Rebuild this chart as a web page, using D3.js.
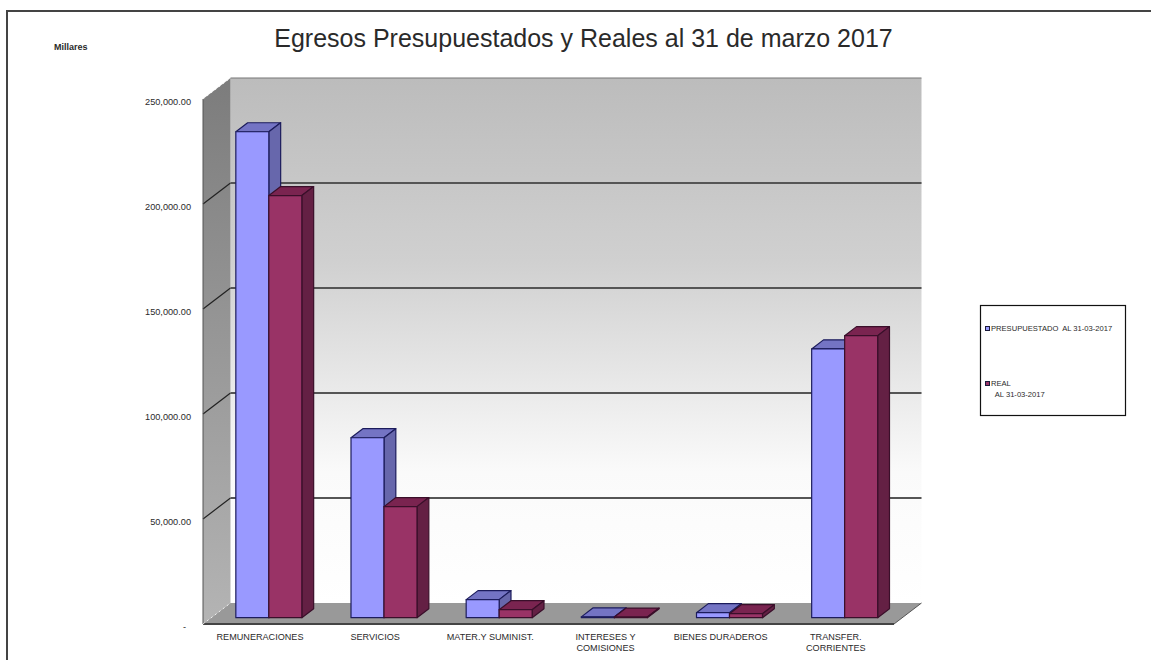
<!DOCTYPE html>
<html>
<head>
<meta charset="utf-8">
<script src="https://cdn.jsdelivr.net/npm/d3@7"></script>
<style>
  html, body { margin: 0; padding: 0; background: #fff; }
  svg { display: block; }
  text { font-family: "Liberation Sans", Arial, sans-serif; fill: #2a2a2a; }
</style>
</head>
<body>
<div id="chart"></div>
<script>
var categories = ["REMUNERACIONES", "SERVICIOS", "MATER.Y SUMINIST.", "INTERESES Y\nCOMISIONES", "BIENES DURADEROS", "TRANSFER.\nCORRIENTES"];
var seriesNames = ["PRESUPUESTADO  AL 31-03-2017", "REAL\n  AL 31-03-2017"];
var presupuestado = [231400, 85700, 8600, 400, 2400, 128000];
var real = [201000, 52900, 3800, 300, 1900, 134300];
var yTicks = [0, 50000, 100000, 150000, 200000, 250000];

var width = 1151, height = 660;
var depthX = 27.5, depthY = 21;   // floor offset, front edge to back wall

var svg = d3.select("#chart").append("svg")
  .attr("width", width)
  .attr("height", height);

var x0 = d3.scaleBand().domain(categories).range([203, 894]);
var x1 = d3.scaleBand().domain(seriesNames).range([0, x0.bandwidth()]).paddingOuter(0.745);
var y = d3.scaleLinear().domain([0, 250000]).range([624, 99]);

// depth goes from 0 (front edge) to 1 (back wall)
function px(x, d) { return x + depthX * d; }
function py(v, d) { return y(v) - depthY * d; }
function pts(a) { return a.map(p => p.join(",")).join(" "); }

// gradients
var defs = svg.append("defs");
function gradient(id, stops) {
  var g = defs.append("linearGradient").attr("id", id)
    .attr("x1", 0).attr("y1", 0).attr("x2", 0).attr("y2", 1);
  stops.forEach(s => g.append("stop").attr("offset", s[0]).attr("stop-color", s[1]));
}
gradient("backWall", [[0, "#bcbcbc"], [0.35, "#d0d0d0"], [0.75, "#fafafa"], [1, "#ffffff"]]);
gradient("sideWall", [[0, "#7c7c7c"], [1, "#b4b4b4"]]);

// outer frame (only top and left show)
svg.append("path")
  .attr("d", "M7,660V11H1151")
  .attr("fill", "none")
  .attr("stroke", "#444")
  .attr("stroke-width", 2);

// walls and floor
svg.append("rect")
  .attr("x", px(203, 1))
  .attr("y", py(250000, 1))
  .attr("width", 691)
  .attr("height", py(0, 1) - py(250000, 1))
  .attr("fill", "url(#backWall)");

svg.append("polygon")
  .attr("points", pts([[203, y(250000)], [px(203, 1), py(250000, 1)], [px(203, 1), py(0, 1)], [203, y(0)]]))
  .attr("fill", "url(#sideWall)");

svg.append("polygon")
  .attr("points", pts([[203, y(0)], [px(203, 1), py(0, 1)], [px(894, 1), py(0, 1)], [894, y(0)]]))
  .attr("fill", "#999999");

// gridlines along the side wall and the back wall
yTicks.slice(1, -1).forEach(function(t) {
  svg.append("line")
    .attr("x1", 203).attr("y1", y(t))
    .attr("x2", px(203, 1)).attr("y2", py(t, 1))
    .attr("stroke", "#222").attr("stroke-width", 1.2);
  svg.append("line")
    .attr("x1", px(203, 1)).attr("y1", py(t, 1))
    .attr("x2", px(894, 1)).attr("y2", py(t, 1))
    .attr("stroke", "#555").attr("stroke-width", 1.8);
});
svg.append("line")
  .attr("x1", px(203, 1)).attr("x2", px(894, 1))
  .attr("y1", py(250000, 1)).attr("y2", py(250000, 1))
  .attr("stroke", "#777").attr("stroke-width", 1.2);

// wall and floor edges
svg.append("line")
  .attr("x1", 203).attr("x2", 203)
  .attr("y1", y(250000)).attr("y2", y(0))
  .attr("stroke", "#555").attr("stroke-width", 1);
svg.append("line")
  .attr("x1", 203).attr("x2", 894)
  .attr("y1", y(0)).attr("y2", y(0))
  .attr("stroke", "#444").attr("stroke-width", 2);
svg.append("line")
  .attr("x1", 894).attr("x2", px(894, 1))
  .attr("y1", y(0)).attr("y2", py(0, 1))
  .attr("stroke", "#555").attr("stroke-width", 1);
[0, 250000].forEach(function(t) {
  svg.append("line")
    .attr("x1", 203).attr("x2", px(203, 1))
    .attr("y1", y(t)).attr("y2", py(t, 1))
    .attr("stroke", "#eee").attr("stroke-width", 1).attr("stroke-dasharray", "2,3");
});

// bars
var barFront = 0.3, barBack = 0.73;
var colors = [
  {front: "#9999ff", side: "#6767ac", top: "#7474c4", line: "#1c1c5c"},
  {front: "#993366", side: "#642044", top: "#7a2450", line: "#3a0f2a"}
];
var seriesValues = [presupuestado, real];

function drawBar(g, x, w, v, c) {
  var a = barFront, b = barBack;
  g.append("polygon")
    .attr("points", pts([[px(x, a), py(v, a)], [px(x, b), py(v, b)], [px(x + w, b), py(v, b)], [px(x + w, a), py(v, a)]]))
    .attr("fill", c.top).attr("stroke", c.line);
  g.append("polygon")
    .attr("points", pts([[px(x + w, a), py(v, a)], [px(x + w, b), py(v, b)], [px(x + w, b), py(0, b)], [px(x + w, a), py(0, a)]]))
    .attr("fill", c.side).attr("stroke", c.line);
  g.append("polygon")
    .attr("points", pts([[px(x, a), py(v, a)], [px(x + w, a), py(v, a)], [px(x + w, a), py(0, a)], [px(x, a), py(0, a)]]))
    .attr("fill", c.front).attr("stroke", c.line);
}

var bars = svg.append("g").attr("stroke-width", 1.2).attr("stroke-linejoin", "round");
categories.forEach(function(cat, i) {
  seriesNames.forEach(function(name, s) {
    drawBar(bars, x0(cat) + x1(name), x1.bandwidth(), seriesValues[s][i], colors[s]);
  });
});

// y axis
var yAxis = svg.append("g")
  .attr("transform", "translate(191,0)")
  .call(d3.axisLeft(y).tickValues(yTicks).tickSize(0).tickPadding(0)
    .tickFormat(d => d == 0 ? "-" : d3.format(",.2f")(d)));
yAxis.select(".domain").remove();
yAxis.selectAll("text")
  .attr("font-size", 9.2)
  .style("font-family", '"Liberation Sans", Arial, sans-serif')
  .attr("fill", "#2a2a2a")
  .attr("dy", "0.6em");
yAxis.selectAll(".tick").filter(d => d == 0).select("text").attr("x", -5);

// x axis labels
var xLabels = svg.append("g");
categories.forEach(function(cat) {
  var t = xLabels.append("text")
    .attr("text-anchor", "middle")
    .attr("font-size", 9.1);
  cat.split("\n").forEach(function(line, i) {
    t.append("tspan")
      .attr("x", x0(cat) + 57)
      .attr("y", 640 + i * 11)
      .text(line);
  });
});

// title
svg.append("text")
  .attr("x", 583.5)
  .attr("y", 47)
  .attr("text-anchor", "middle")
  .attr("font-size", 25)
  .attr("fill", "#111")
  .text("Egresos Presupuestados y Reales al 31 de marzo 2017");

svg.append("text")
  .attr("x", 54)
  .attr("y", 50)
  .attr("font-size", 9)
  .attr("font-weight", "bold")
  .text("Millares");

// legend
var legend = svg.append("g");
legend.append("rect")
  .attr("x", 980.5).attr("y", 305.5)
  .attr("width", 145).attr("height", 110)
  .attr("fill", "#fff")
  .attr("stroke", "#111")
  .attr("stroke-width", 1.2);

seriesNames.forEach(function(name, s) {
  var top = [328, 383][s];
  legend.append("rect")
    .attr("x", 985.5).attr("y", top - 1.5)
    .attr("width", 4).attr("height", 4)
    .attr("fill", colors[s].front)
    .attr("stroke", "#1a1a3a");
  var t = legend.append("text").attr("font-size", 7.6);
  name.split("\n").forEach(function(line, i) {
    t.append("tspan")
      .attr("x", 991)
      .attr("y", top + 3 + i * 10.5)
      .style("white-space", "pre")
      .text(line);
  });
});
</script>
</body>
</html>
